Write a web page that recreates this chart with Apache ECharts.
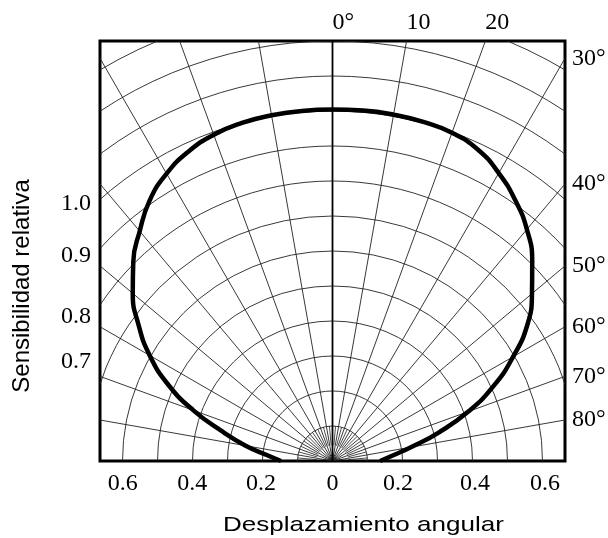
<!DOCTYPE html>
<html>
<head>
<meta charset="utf-8">
<script src="https://cdn.jsdelivr.net/npm/echarts@6/dist/echarts.min.js"></script>
<style>
html, body { margin: 0; padding: 0; background: #fff; }
#chart { width: 608px; height: 538px; }
</style>
</head>
<body>
<div id="chart"></div>
<script>
// CURVE (angle from the axis in degrees, radius in ring units)
const curveAngles = [-90, -85, -80, -75, -70, -65, -60, -55, -50, -45, -40, -35, -30, -25, -20, -15, -10, -5,
	0, 5, 10, 15, 20, 25, 30, 35, 40, 45, 50, 55, 60, 65, 70, 75, 80, 85, 90];
const curveRadius = [1.47, 1.87, 2.52, 3.26, 4.23, 5.19, 6.03, 6.76, 7.45, 8.05, 8.57, 9.10, 9.48, 9.75, 9.92, 10.0, 10.03, 10.04,
	10.04, 10.05, 10.05, 10.03, 9.98, 9.82, 9.50, 9.10, 8.64, 8.07, 7.44, 6.80, 5.96, 5.08, 4.13, 3.14, 2.29, 1.71, 1.36];

// GRID
const ringRadii = [1, 2, 3, 4, 5, 6, 7, 8, 9, 10, 11, 12, 13, 14];
const spokeAngles = [-80, -70, -60, -50, -40, -30, -20, -10, 10, 20, 30, 40, 50, 60, 70, 80];
const shortSpokeAngles = [-85, -75, -65, -55, -45, -35, -25, -15, -5, 5, 15, 25, 35, 45, 55, 65, 75, 85];

// TICK LABELS
const xTickPos = [-5.99, -4.01, -2.04, 0, 1.87, 4.07, 6.07];
const xTickLabels = ['0.6', '0.4', '0.2', '0', '0.2', '0.4', '0.6'];
const yTickPos = [7.34, 5.86, 4.11, 2.83];
const yTickLabels = ['1.0', '0.9', '0.8', '0.7'];
const rightAngles = [30, 40, 50, 60, 70, 80];
const rightLabels = ['30°', '40°', '50°', '60°', '70°', '80°'];
const topAngles = [0, 10, 20];
const topLabels = ['0°', '10', '20'];

const xHalf = 6.643;
const yTop = 12;
const rad = Math.PI / 180;
const serif = 'Liberation Serif';

function nearest(arr, v) {
	let best = 0;
	for (let i = 1; i < arr.length; i++) {
		if (Math.abs(arr[i] - v) < Math.abs(arr[best] - v)) best = i;
	}
	return best;
}

const curveData = curveAngles.map((a, i) => [curveRadius[i] * Math.sin(a * rad), curveRadius[i] * Math.cos(a * rad)]);
const topPos = topAngles.map(a => yTop * Math.tan(a * rad));
const rightPos = rightAngles.map(a => xHalf / Math.tan(a * rad));

const spokeData = spokeAngles.map(a => [a, 0, 20, 0.9])
	.concat(shortSpokeAngles.map(a => [a, 0.45, 1, 0.8]))
	.concat([[0, 0, 20, 1.8]]);

function hiddenAxis(extra) {
	return Object.assign({
		type: 'value',
		axisLine: { show: false },
		axisTick: { show: false },
		splitLine: { show: false }
	}, extra);
}

const chart = echarts.init(document.getElementById('chart'));

const option = {
	animation: false,
	grid: {
		left: 100, right: 43, top: 41, bottom: 77,
		show: true,
		borderColor: '#000',
		borderWidth: 3,
		outerBoundsMode: 'none'
	},
	xAxis: [
		hiddenAxis({
			position: 'bottom', min: -xHalf, max: xHalf,
			axisLabel: {
				customValues: xTickPos,
				formatter: v => xTickLabels[nearest(xTickPos, v)],
				fontFamily: serif, fontSize: 24, color: '#000', margin: 11
			}
		}),
		hiddenAxis({
			position: 'top', min: -xHalf, max: xHalf,
			axisLabel: {
				customValues: topPos,
				formatter: v => topLabels[nearest(topPos, v)],
				fontFamily: serif, fontSize: 24, color: '#000', margin: 6, align: 'left'
			}
		})
	],
	yAxis: [
		hiddenAxis({
			position: 'left', min: 0, max: yTop,
			axisLabel: {
				customValues: yTickPos,
				formatter: v => yTickLabels[nearest(yTickPos, v)],
				fontFamily: serif, fontSize: 24, color: '#000', margin: 9
			}
		}),
		hiddenAxis({
			position: 'right', min: 0, max: yTop,
			axisLabel: {
				customValues: rightPos,
				formatter: v => rightLabels[nearest(rightPos, v)],
				fontFamily: serif, fontSize: 24, color: '#000', margin: 7
			}
		})
	],
	graphic: [
		{
			type: 'text', x: 223, y: 525, scaleX: 1.24,
			style: { text: 'Desplazamiento angular', font: '21px "Liberation Sans"', fill: '#000', align: 'left', verticalAlign: 'middle' }
		},
		{
			type: 'text', x: 22, y: 286, rotation: Math.PI / 2,
			style: { text: 'Sensibilidad relativa', font: '24px "Liberation Sans"', fill: '#000', align: 'center', verticalAlign: 'middle' }
		}
	],
	series: [
		{
			// concentric rings
			type: 'custom',
			clip: true,
			silent: true,
			data: ringRadii.map(r => [r, 0]),
			renderItem: function (params, api) {
				const c = api.coord([0, 0]);
				const p = api.coord([api.value(0), 0]);
				return {
					type: 'arc',
					shape: { cx: c[0], cy: c[1], r: p[0] - c[0], startAngle: Math.PI, endAngle: 2 * Math.PI },
					style: { stroke: '#222', lineWidth: 0.9, fill: 'none' }
				};
			}
		},
		{
			// spokes every 10 deg, short ones at 5 deg near the centre
			type: 'custom',
			clip: true,
			silent: true,
			data: spokeData,
			renderItem: function (params, api) {
				const a = api.value(0) * rad;
				const r0 = api.value(1), r1 = api.value(2);
				const p0 = api.coord([r0 * Math.sin(a), r0 * Math.cos(a)]);
				const p1 = api.coord([r1 * Math.sin(a), r1 * Math.cos(a)]);
				return {
					type: 'line',
					shape: { x1: p0[0], y1: p0[1], x2: p1[0], y2: p1[1] },
					style: { stroke: api.value(3) > 1 ? '#000' : '#222', lineWidth: api.value(3) }
				};
			}
		},
		{
			type: 'line',
			data: curveData,
			smooth: 0.5,
			symbol: 'none',
			clip: true,
			lineStyle: { color: '#000', width: 4.5 },
			z: 5
		}
	]
};

chart.setOption(option);
</script>
</body>
</html>
